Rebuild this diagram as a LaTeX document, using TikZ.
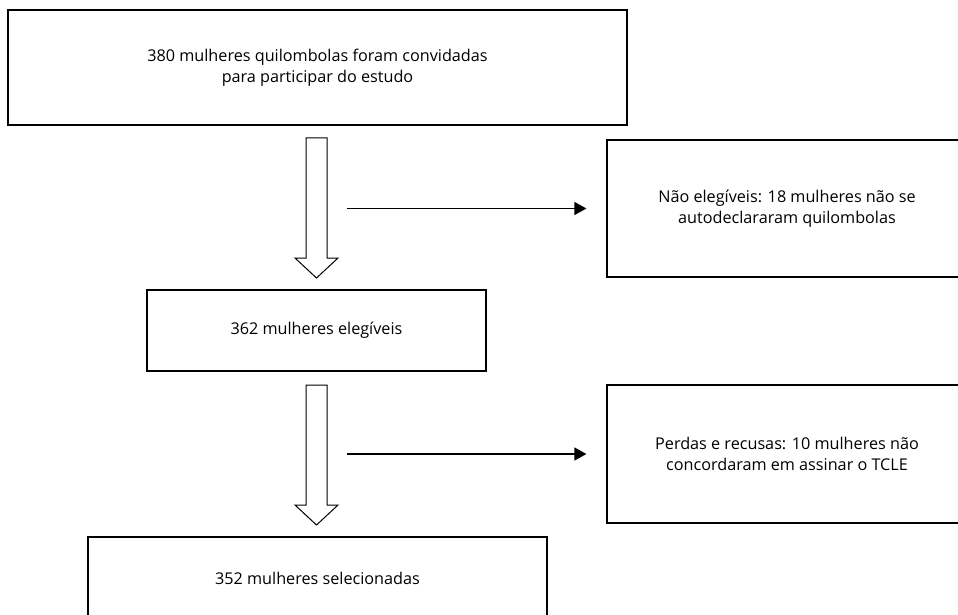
\documentclass[tikz,border=0pt]{standalone}
\usepackage{fontspec}
\setmainfont{Open Sans}
\usetikzlibrary{arrows.meta,positioning}

\begin{document}
\begin{tikzpicture}[x=1pt, y=-1pt,
        flowbox/.style={rectangle, draw=black, line width=1.2pt, inner sep=0pt,
                        align=center, font=\fontsize{16.2}{20.5}\selectfont},
        fatarr/.style={draw=black, line width=1pt, fill=white, line join=miter},
        arr/.style={-{Triangle[length=12pt, width=13pt]}, line width=1.2pt, black}
      ]
        \useasboundingbox (0,0) rectangle (958,615);
        \clip (0,0) rectangle (958,615);

        \node[flowbox, minimum width=619pt, minimum height=115pt] (invited) at (317.5, 67.5)
             {380 mulheres quilombolas foram convidadas\\para participar do estudo};
        \node[flowbox, minimum width=360pt, minimum height=137pt] (excl1)   at (787, 208.5)
             {Não elegíveis: 18 mulheres não se\\autodeclararam quilombolas};
        \node[flowbox, minimum width=339pt, minimum height=81pt]  (elig)    at (316.5, 330.5)
             {362 mulheres elegíveis};
        \node[flowbox, minimum width=360pt, minimum height=138pt] (excl2)   at (787, 454)
             {Perdas e recusas: 10 mulheres não\\concordaram em assinar o TCLE};
        \node[flowbox, minimum width=459pt, minimum height=82pt]  (sel)     at (317.5, 578)
             {352 mulheres selecionadas};

        % hollow arrows between the main boxes
        \draw[fatarr] (306,138) -- (327,138) -- (327,258) -- (338,258) -- (316.5,278)
                      -- (295,258) -- (306,258) -- cycle;
        \draw[fatarr] (306,385) -- (327,385) -- (327,505) -- (338,505) -- (316.5,525)
                      -- (295,505) -- (306,505) -- cycle;

        % side arrows to the exclusions
        \coordinate (s1) at (347, 208.5);
        \coordinate (s2) at (347, 454);
        \draw[arr, shorten >=20pt] (s1) -- (excl1.west);
        \draw[arr, shorten >=20pt] (s2) -- (excl2.west);
      \end{tikzpicture}
\end{document}
